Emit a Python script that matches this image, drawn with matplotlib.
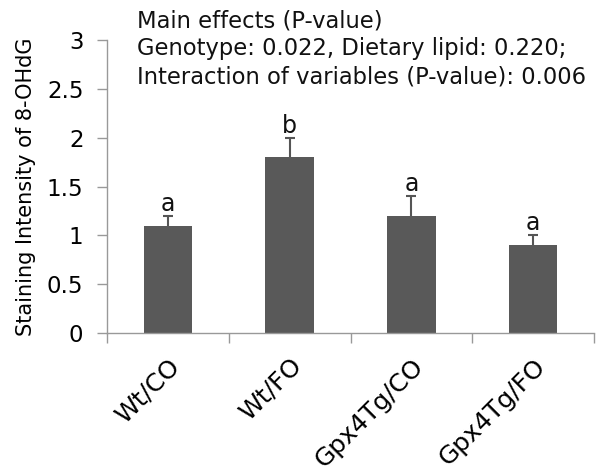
import matplotlib
matplotlib.use("Agg")
import matplotlib.pyplot as plt
import numpy as np

categories = ["Wt/CO", "Wt/FO", "Gpx4Tg/CO", "Gpx4Tg/FO"]
values = [1.1, 1.8, 1.2, 0.9]
errors = [0.1, 0.2, 0.2, 0.1]
letters = ["a", "b", "a", "a"]
yticks = [0, 0.5, 1, 1.5, 2, 2.5, 3]
ytick_labels = ["0", "0.5", "1", "1.5", "2", "2.5", "3"]
annotation = ["Main effects (P-value)",
              "Genotype: 0.022, Dietary lipid: 0.220;",
              "Interaction of variables (P-value): 0.006"]

plt.rcParams['font.family'] = ['DejaVu Sans']
W, H = 601, 473
fig = plt.figure(figsize=(W/100, H/100), dpi=100)
ax = fig.add_axes([107/W, 1-333/H, (594-107)/W, (333-40)/H])

x = np.arange(len(categories))
vals = np.array(values)
errs = np.array(errors)
ax.bar(x, vals, width=0.4, color="#595959", zorder=2)
ax.vlines(x, vals, vals + errs, color="#555555", linewidth=1.5, zorder=3)
ax.plot(x, vals + errs, linestyle="none", marker="_", markersize=7,
        markeredgewidth=1.5, color="#555555", zorder=3)
for xi, v, e, l in zip(x, vals, errs, letters):
    ax.text(xi, v + e + 0.05, l, ha="center", va="baseline", fontsize=17, color="#111111")

ax.set_xlim(-0.5, 3.5)
ax.set_ylim(0, 3)
ax.set_yticks(yticks)
ax.set_yticklabels(ytick_labels, fontsize=16.5)
ax.set_xticks(x)
ax.set_xticklabels(categories, rotation=45, ha="right", rotation_mode="anchor", fontsize=18)
ax.tick_params(axis="x", length=0, pad=15)
ax.set_xticks(np.arange(-0.5, 4.0, 1.0), minor=True)
ax.tick_params(axis="x", which="minor", length=7, color="#999999", width=1)
ax.tick_params(axis="y", length=7, color="#999999", width=1, pad=10)
for s in ["top", "right"]:
    ax.spines[s].set_visible(False)
for s in ["left", "bottom"]:
    ax.spines[s].set_color("#999999")
    ax.spines[s].set_linewidth(1)
ax.set_ylabel("Staining Intensity of 8-OHdG", fontsize=15, labelpad=8)

for i, line in enumerate(annotation):
    fig.text(137/W, 1-(27 + 28*i)/H, line, ha="left", va="baseline", fontsize=16.3, color="#111111")

fig.savefig("out.png", dpi=100)
